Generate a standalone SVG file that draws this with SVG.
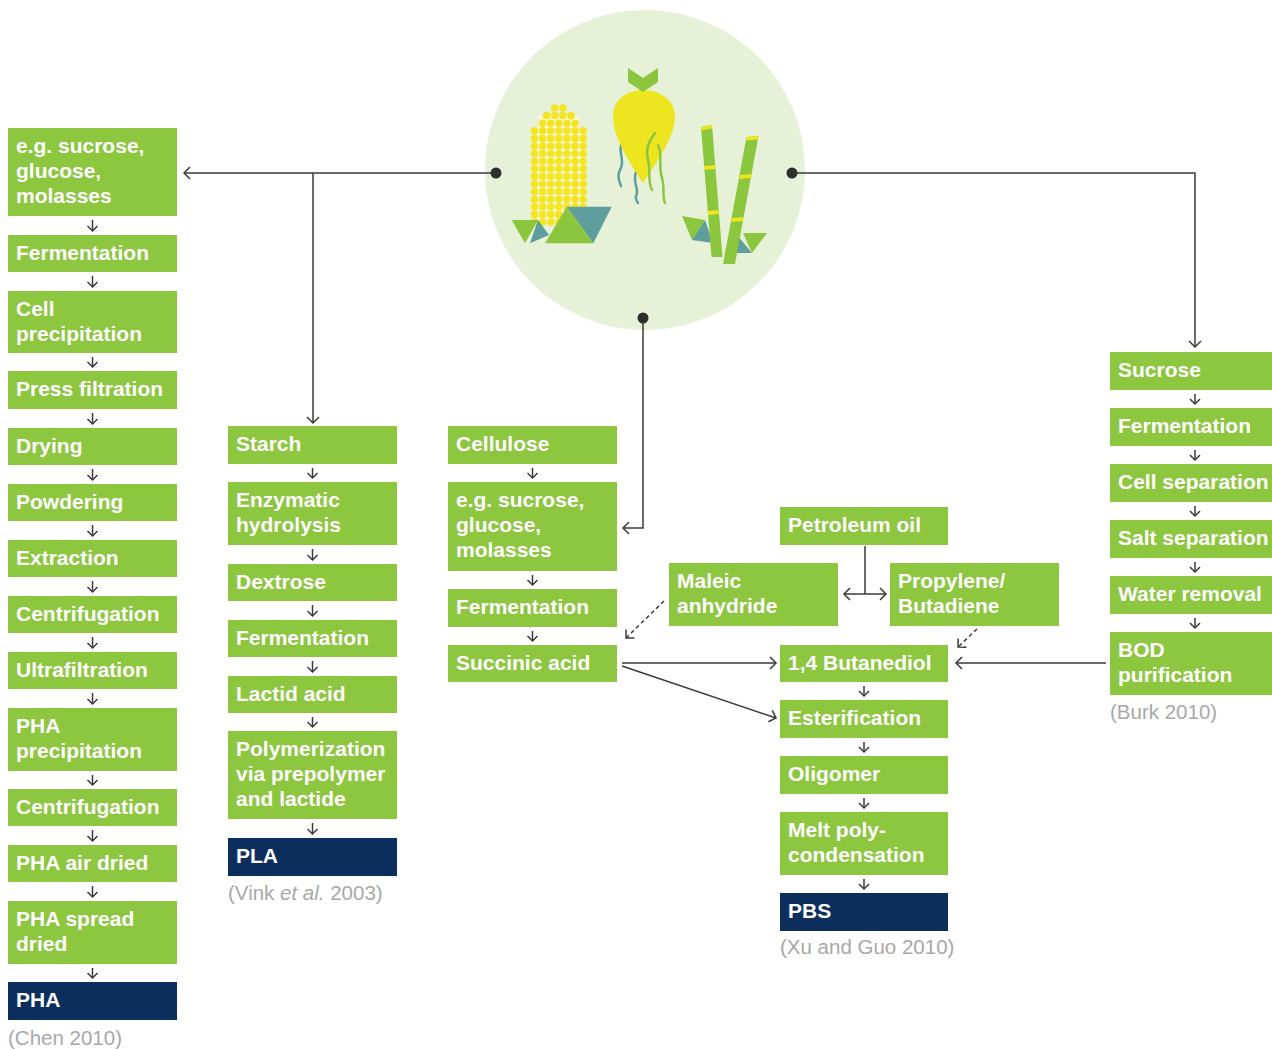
<svg xmlns="http://www.w3.org/2000/svg" width="1272" height="1049" viewBox="0 0 1272 1049">
<defs>
<style>
.box{fill:#8dc63f}
.navy{fill:#0b2e5d}
.t{font-family:"Liberation Sans",Arial,sans-serif;font-weight:bold;font-size:21px;fill:#ffffff}
.cite{font-family:"Liberation Sans",Arial,sans-serif;font-size:20.5px;fill:#a8a8a8}
.ln{fill:none;stroke:#3a3a3a;stroke-width:1.5}
.sa{fill:none;stroke:#3a3a3a;stroke-width:1.5;marker-end:url(#ms)}
.ma{marker-end:url(#mb)}
.dash{stroke-dasharray:4 3}
.dot{fill:#2e2e2e}
.k{fill:#f3e424}
.lg{fill:#8cc63f}
.teal{fill:#5e9e9c}
.yl{fill:#ede51f}
.root{fill:none;stroke-width:2.5;stroke-linecap:round}
</style>
<marker id="mb" markerUnits="userSpaceOnUse" markerWidth="14" markerHeight="14" refX="7" refY="7" orient="auto-start-reverse">
<path d="M1,1 L7,7 L1,13" fill="none" stroke="#3a3a3a" stroke-width="1.5"/>
</marker>
<marker id="ms" markerUnits="userSpaceOnUse" markerWidth="12" markerHeight="12" refX="6" refY="6" orient="auto">
<path d="M1,1 L6,6 L1,11" fill="none" stroke="#3a3a3a" stroke-width="1.5"/>
</marker>
<g id="krow">
<circle class="k" cx="534.5" cy="0" r="3.8"/><circle class="k" cx="542.6" cy="0" r="3.8"/><circle class="k" cx="550.7" cy="0" r="3.8"/><circle class="k" cx="558.8" cy="0" r="3.8"/><circle class="k" cx="566.9" cy="0" r="3.8"/><circle class="k" cx="575" cy="0" r="3.8"/><circle class="k" cx="583.1" cy="0" r="3.8"/>
</g>
</defs>

<g id="illustration">
<circle cx="645" cy="170" r="160" fill="#e7f1d7"/>
<g id="corn">
<rect x="538" y="116" width="41" height="106" fill="#fbf7d6"/>
<rect x="534.5" y="131" width="48.6" height="91" fill="#fbf7d6"/>
<circle class="k" cx="554.7" cy="108" r="3.8"/><circle class="k" cx="562.8" cy="108" r="3.8"/>
<circle class="k" cx="546.6" cy="115.6" r="3.8"/><circle class="k" cx="554.7" cy="115.6" r="3.8"/><circle class="k" cx="562.8" cy="115.6" r="3.8"/><circle class="k" cx="570.9" cy="115.6" r="3.8"/>
<circle class="k" cx="542.6" cy="123.2" r="3.8"/><circle class="k" cx="550.7" cy="123.2" r="3.8"/><circle class="k" cx="558.8" cy="123.2" r="3.8"/><circle class="k" cx="566.9" cy="123.2" r="3.8"/><circle class="k" cx="575" cy="123.2" r="3.8"/>
<use href="#krow" y="130.8"/><use href="#krow" y="138.4"/><use href="#krow" y="146"/><use href="#krow" y="153.6"/><use href="#krow" y="161.2"/><use href="#krow" y="168.8"/><use href="#krow" y="176.4"/><use href="#krow" y="184"/><use href="#krow" y="191.6"/><use href="#krow" y="199.2"/><use href="#krow" y="206.8"/><use href="#krow" y="214.4"/><use href="#krow" y="222"/>
<polygon class="lg" points="511.7,220 538,220 525,243.3"/>
<polygon class="teal" points="538,220 549,235 530,243.3"/>
<polygon class="teal" points="566.7,206.7 611.7,206.7 593.3,243.3"/>
<polygon class="lg" points="566.7,206.7 593.3,243.3 545,243.3"/>
</g>
<g id="beet">
<path class="root" stroke="#5e9e9c" d="M622,142 C617,152 626,160 620,170 C616,177 620,182 621,186"/>
<path class="root" stroke="#5e9e9c" d="M636,172 C632,182 640,190 636,196 C635,199 637,201 638,203"/>
<path class="yl" d="M613,116 C613,100 627,90 643,90 C660,90 675,100 675,116 C675,138 656,163 643,183 C630,163 613,138 613,116 Z"/>
<path class="root" stroke="#8cc63f" d="M655,133 C648,142 645,150 648,160 C651,170 647,180 652,190"/>
<path class="root" stroke="#8cc63f" d="M658,145 C663,155 658,165 662,178 C665,188 662,196 665,203"/>
<polygon class="lg" points="628,68 643,78 658,68 658,82 643,92 628,82"/>
</g>
<g id="cane">
<polygon class="lg" points="682,216 705,220 692,240"/>
<polygon class="teal" points="692,240 705,220 713,243"/>
<polygon class="teal" points="737,235 752,253 735,253"/>
<polygon class="lg" points="743,233 767,233 752,253"/>
<polygon class="lg" points="701,127 712,125 722.5,257 711.5,257"/>
<polygon class="yl" points="701,127 712,125 712.2,128.5 701.2,130.5"/>
<polygon class="yl" points="704,166 715,165 715.3,169 704.3,170"/>
<polygon class="yl" points="707.6,211 718.6,210 718.9,214 707.9,215"/>
<polygon class="lg" points="746.5,137 758.5,136 735,264 723,264"/>
<polygon class="yl" points="746.5,137 758.5,136 758,139.5 746,140.5"/>
<polygon class="yl" points="740,175 752,174 751.3,178 739.3,179"/>
<polygon class="yl" points="732,218 744,217 743.3,221 731.3,222"/>
</g>
</g>

<g id="connectors">
<path class="ln ma" d="M496,173 H184"/>
<path class="ln ma" d="M313,173 V423"/>
<path class="ln ma" d="M792,173 H1195 V347"/>
<path class="ln ma" d="M643,318 V528 H623"/>
<path class="ln" d="M865,546 V594"/>
<path class="ln" d="M844,594 H886" marker-start="url(#mb)" marker-end="url(#mb)"/>
<path class="ln ma dash" d="M664,601 L626,638"/>
<path class="ln ma dash" d="M977,629 L958,647"/>
<path class="ln ma" d="M622,663 H776"/>
<path class="ln ma" d="M622,666 L776,718"/>
<path class="ln ma" d="M1106,663 H956"/>
<circle class="dot" cx="496" cy="173" r="5.5"/>
<circle class="dot" cx="792" cy="173" r="5.5"/>
<circle class="dot" cx="643" cy="318" r="5.5"/>
<path class="sa" d="M92.5,220 V231"/>
<path class="sa" d="M92.5,276 V287"/>
<path class="sa" d="M92.5,357 V367"/>
<path class="sa" d="M92.5,413 V424"/>
<path class="sa" d="M92.5,469 V480"/>
<path class="sa" d="M92.5,525 V536"/>
<path class="sa" d="M92.5,581 V592"/>
<path class="sa" d="M92.5,637 V648"/>
<path class="sa" d="M92.5,693 V704"/>
<path class="sa" d="M92.5,775 V785"/>
<path class="sa" d="M92.5,830 V841"/>
<path class="sa" d="M92.5,886 V897"/>
<path class="sa" d="M92.5,968 V978"/>
<path class="sa" d="M312.5,468 V478"/>
<path class="sa" d="M312.5,549 V560"/>
<path class="sa" d="M312.5,605 V616"/>
<path class="sa" d="M312.5,661 V672"/>
<path class="sa" d="M312.5,717 V727"/>
<path class="sa" d="M312.5,823 V834"/>
<path class="sa" d="M532.5,468 V478"/>
<path class="sa" d="M532.5,575 V585"/>
<path class="sa" d="M532.5,631 V641"/>
<path class="sa" d="M864,686 V696"/>
<path class="sa" d="M864,742 V752"/>
<path class="sa" d="M864,798 V808"/>
<path class="sa" d="M864,879 V889"/>
<path class="sa" d="M1195,394 V404"/>
<path class="sa" d="M1195,450 V460"/>
<path class="sa" d="M1195,506 V516"/>
<path class="sa" d="M1195,562 V572"/>
<path class="sa" d="M1195,618 V628"/>
</g>

<!-- Column 1: PHA -->
<g id="c1-sugars"><rect class="box" x="8" y="128" width="169" height="88"/><text class="t" x="16" y="153">e.g. sucrose,</text><text class="t" x="16" y="178">glucose,</text><text class="t" x="16" y="203">molasses</text></g>
<g id="c1-fermentation"><rect class="box" x="8" y="235" width="169" height="37"/><text class="t" x="16" y="260">Fermentation</text></g>
<g id="c1-cellprec"><rect class="box" x="8" y="291" width="169" height="62"/><text class="t" x="16" y="316">Cell</text><text class="t" x="16" y="341">precipitation</text></g>
<g id="c1-press"><rect class="box" x="8" y="371" width="169" height="38"/><text class="t" x="16" y="396">Press filtration</text></g>
<g id="c1-drying"><rect class="box" x="8" y="428" width="169" height="37"/><text class="t" x="16" y="453">Drying</text></g>
<g id="c1-powdering"><rect class="box" x="8" y="484" width="169" height="37"/><text class="t" x="16" y="509">Powdering</text></g>
<g id="c1-extraction"><rect class="box" x="8" y="540" width="169" height="37"/><text class="t" x="16" y="565">Extraction</text></g>
<g id="c1-centrif1"><rect class="box" x="8" y="596" width="169" height="37"/><text class="t" x="16" y="621">Centrifugation</text></g>
<g id="c1-ultra"><rect class="box" x="8" y="652" width="169" height="37"/><text class="t" x="16" y="677">Ultrafiltration</text></g>
<g id="c1-phaprec"><rect class="box" x="8" y="708" width="169" height="63"/><text class="t" x="16" y="733">PHA</text><text class="t" x="16" y="758">precipitation</text></g>
<g id="c1-centrif2"><rect class="box" x="8" y="789" width="169" height="37"/><text class="t" x="16" y="814">Centrifugation</text></g>
<g id="c1-airdried"><rect class="box" x="8" y="845" width="169" height="37"/><text class="t" x="16" y="870">PHA air dried</text></g>
<g id="c1-spreaddried"><rect class="box" x="8" y="901" width="169" height="63"/><text class="t" x="16" y="926">PHA spread</text><text class="t" x="16" y="951">dried</text></g>
<g id="c1-pha"><rect class="navy" x="8" y="982" width="169" height="38"/><text class="t" x="16" y="1007">PHA</text></g>
<text class="cite" x="8" y="1045">(Chen 2010)</text>

<!-- Column 2: PLA -->
<g id="c2-starch"><rect class="box" x="228" y="426" width="169" height="38"/><text class="t" x="236" y="451">Starch</text></g>
<g id="c2-enzymatic"><rect class="box" x="228" y="482" width="169" height="63"/><text class="t" x="236" y="507">Enzymatic</text><text class="t" x="236" y="532">hydrolysis</text></g>
<g id="c2-dextrose"><rect class="box" x="228" y="564" width="169" height="37"/><text class="t" x="236" y="589">Dextrose</text></g>
<g id="c2-fermentation"><rect class="box" x="228" y="620" width="169" height="37"/><text class="t" x="236" y="645">Fermentation</text></g>
<g id="c2-lactid"><rect class="box" x="228" y="676" width="169" height="37"/><text class="t" x="236" y="701">Lactid acid</text></g>
<g id="c2-polymerization"><rect class="box" x="228" y="731" width="169" height="88"/><text class="t" x="236" y="756">Polymerization</text><text class="t" x="236" y="781">via prepolymer</text><text class="t" x="236" y="806">and lactide</text></g>
<g id="c2-pla"><rect class="navy" x="228" y="838" width="169" height="38"/><text class="t" x="236" y="863">PLA</text></g>
<text class="cite" x="228" y="900">(Vink <tspan font-style="italic">et al.</tspan> 2003)</text>

<!-- Column 3: Succinic acid -->
<g id="c3-cellulose"><rect class="box" x="448" y="426" width="169" height="38"/><text class="t" x="456" y="451">Cellulose</text></g>
<g id="c3-sugars"><rect class="box" x="448" y="482" width="169" height="89"/><text class="t" x="456" y="507">e.g. sucrose,</text><text class="t" x="456" y="532">glucose,</text><text class="t" x="456" y="557">molasses</text></g>
<g id="c3-fermentation"><rect class="box" x="448" y="589" width="169" height="38"/><text class="t" x="456" y="614">Fermentation</text></g>
<g id="c3-succinic"><rect class="box" x="448" y="645" width="169" height="37"/><text class="t" x="456" y="670">Succinic acid</text></g>

<!-- Column 4: PBS -->
<g id="c4-petroleum"><rect class="box" x="780" y="507" width="168" height="38"/><text class="t" x="788" y="532">Petroleum oil</text></g>
<g id="c4-maleic"><rect class="box" x="669" y="563" width="169" height="63"/><text class="t" x="677" y="588">Maleic</text><text class="t" x="677" y="613">anhydride</text></g>
<g id="c4-propylene"><rect class="box" x="890" y="563" width="169" height="63"/><text class="t" x="898" y="588">Propylene/</text><text class="t" x="898" y="613">Butadiene</text></g>
<g id="c4-butanediol"><rect class="box" x="780" y="645" width="168" height="37"/><text class="t" x="788" y="670">1,4 Butanediol</text></g>
<g id="c4-esterification"><rect class="box" x="780" y="700" width="168" height="38"/><text class="t" x="788" y="725">Esterification</text></g>
<g id="c4-oligomer"><rect class="box" x="780" y="756" width="168" height="38"/><text class="t" x="788" y="781">Oligomer</text></g>
<g id="c4-melt"><rect class="box" x="780" y="812" width="168" height="63"/><text class="t" x="788" y="837">Melt poly-</text><text class="t" x="788" y="862">condensation</text></g>
<g id="c4-pbs"><rect class="navy" x="780" y="893" width="168" height="38"/><text class="t" x="788" y="918">PBS</text></g>
<text class="cite" x="780" y="954">(Xu and Guo 2010)</text>

<!-- Column 5: BDO -->
<g id="c5-sucrose"><rect class="box" x="1110" y="352" width="162" height="38"/><text class="t" x="1118" y="377">Sucrose</text></g>
<g id="c5-fermentation"><rect class="box" x="1110" y="408" width="162" height="38"/><text class="t" x="1118" y="433">Fermentation</text></g>
<g id="c5-cellsep"><rect class="box" x="1110" y="464" width="162" height="38"/><text class="t" x="1118" y="489">Cell separation</text></g>
<g id="c5-saltsep"><rect class="box" x="1110" y="520" width="162" height="38"/><text class="t" x="1118" y="545">Salt separation</text></g>
<g id="c5-water"><rect class="box" x="1110" y="576" width="162" height="38"/><text class="t" x="1118" y="601">Water removal</text></g>
<g id="c5-bod"><rect class="box" x="1110" y="632" width="162" height="63"/><text class="t" x="1118" y="657">BOD</text><text class="t" x="1118" y="682">purification</text></g>
<text class="cite" x="1110" y="719">(Burk 2010)</text>
</svg>
